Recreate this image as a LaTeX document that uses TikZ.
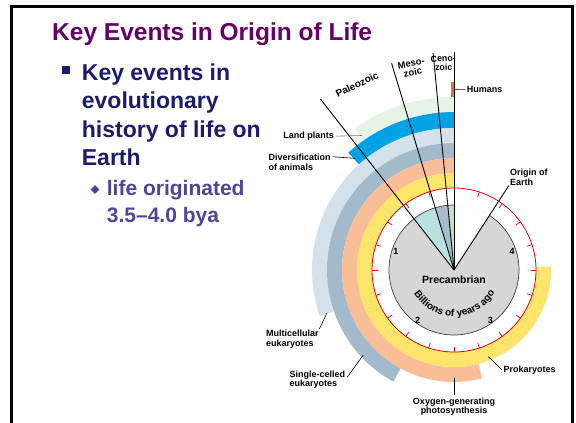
\documentclass[tikz,border=0pt]{standalone}
\usepackage{fontspec}
\setmainfont{Liberation Sans}
\usetikzlibrary{decorations.text,shapes.geometric,calc}

\definecolor{titlepurple}{RGB}{102,0,102}
\definecolor{navy}{RGB}{28,28,110}
\definecolor{subblue}{RGB}{72,72,152}
\definecolor{landgreen}{RGB}{230,243,231}
\definecolor{brightblue}{RGB}{0,162,229}
\definecolor{paleblue}{RGB}{211,225,235}
\definecolor{greyblue}{RGB}{163,186,203}
\definecolor{peach}{RGB}{249,190,152}
\definecolor{yell}{RGB}{253,228,106}
\definecolor{redc}{RGB}{227,0,27}
\definecolor{discgrey}{RGB}{214,214,214}
\definecolor{paleoc}{RGB}{185,225,223}
\definecolor{mesoc}{RGB}{167,189,205}
\definecolor{cenoc}{RGB}{189,227,193}
\definecolor{humanc}{RGB}{228,112,74}

\newcommand{\myring}[5]{\fill[#1] (#2:#4) arc[start angle=#2,end angle=#3,radius=#4] -- (#3:#5) arc[start angle=#3,end angle=#2,radius=#5] -- cycle;}

\begin{document}
\begin{tikzpicture}[x=1pt,y=1pt,
  lab/.style={font=\bfseries\fontsize{9}{10}\selectfont, inner sep=0pt, text=black},
  eralab/.style={font=\bfseries\fontsize{9.5}{9}\selectfont, inner sep=0pt, align=center, text=black},
  bodytext/.style={font=\bfseries\fontsize{23}{28}\selectfont, inner sep=0pt, text=navy, anchor=base west},
  subtext/.style={font=\bfseries\fontsize{21}{26}\selectfont, inner sep=0pt, text=subblue, anchor=base west},
  eraline/.style={line width=0.9pt, black},
  leader/.style={line width=0.6pt, black},
  numlab/.style={font=\bfseries\fontsize{9}{10}\selectfont, inner sep=0pt}]
\useasboundingbox (0,0) rectangle (576,-423);
\fill[white] (0,0) rectangle (576,-423);
\draw[line width=3pt] (11.5,-440) -- (11.5,-6) -- (572.5,-6) -- (572.5,-440);

% title and bullets
\node[anchor=base west, inner sep=0pt, font=\bfseries\fontsize{24.5}{29}\selectfont, text=titlepurple] (title) at (52,-40) {Key Events in Origin of Life};
\node[fill=navy, minimum size=8.3pt, inner sep=0pt] (sq) at (65.8,-70) {};
\node[bodytext] (b1) at (81.7,-80) {Key events in};
\node[bodytext] (b2) at (81.7,-108.5) {evolutionary};
\node[bodytext] (b3) at (81.7,-137) {history of life on};
\node[bodytext] (b4) at (81.7,-165.5) {Earth};
\node[diamond, aspect=1, fill=subblue, minimum size=9pt, inner sep=0pt] (dm) at (95,-189.5) {};
\node[subtext] (s1) at (106.7,-195) {life originated};
\node[subtext] (s2) at (106.7,-222) {3.5--4.0 bya};

% clock diagram
\begin{scope}[shift={(454,-270)}]
  \myring{landgreen}{90}{125}{158}{173}
  \myring{brightblue}{90}{132}{142}{158}
  \myring{paleblue}{90}{199}{127}{142}
  \myring{greyblue}{90}{241.5}{112}{127}
  \myring{peach}{90}{284.5}{97}{112}
  \myring{yell}{90}{362}{82}{97}
  \fill[discgrey] (0,0) circle[radius=65];
  \fill[white] (0,0) -- (57:65) arc[start angle=57,end angle=90,radius=65] -- cycle;
  \fill[cenoc] (0,0) -- (90:65) arc[start angle=90,end angle=95.5,radius=65] -- cycle;
  \fill[mesoc] (0,0) -- (95.5:65) arc[start angle=95.5,end angle=106.8,radius=65] -- cycle;
  \fill[paleoc] (0,0) -- (106.8:65) arc[start angle=106.8,end angle=128,radius=65] -- cycle;
  \draw[line width=0.7pt, black!75] (90:65) arc[start angle=90,end angle=417,radius=65];
  \draw[redc, line width=0.8pt] (0,0) circle[radius=82];
  \foreach \k in {0,...,19} \draw[redc, line width=0.7pt] ({90+18*\k}:82) -- ({90+18*\k}:76.5);
  \coordinate (ctr) at (0,0);
  \coordinate (paleoend) at (128:217);
  \coordinate (mesoend) at (106.8:216);
  \coordinate (cenoend) at (95.5:218);
  \coordinate (nowend) at (90:218);
  \coordinate (oriend) at (57:100.5);
  \node[numlab] (n1) at (162:61) {1};
  \node[numlab] (n2) at (234:62) {2};
  \node[numlab] (n3) at (306:62) {3};
  \node[numlab] (n4) at (18:61) {4};
  \path[decorate, decoration={text along path, text align=center,
     text={|\bfseries\fontsize{10}{11}\selectfont|Billions of years ago}}]
     (210:46.5) arc[start angle=210,end angle=332,radius=46.5];
\end{scope}
\draw[eraline] (ctr) -- (paleoend);
\draw[eraline] (ctr) -- (mesoend);
\draw[eraline] (ctr) -- (cenoend);
\draw[eraline] (ctr) -- (nowend);
\draw[eraline] (ctr) -- (oriend);

\node[fill=humanc, minimum width=2.8pt, minimum height=15pt, inner sep=0pt] (humbar) at (452.1,-89.2) {};

% era labels
\node[eralab, font=\bfseries\fontsize{10}{10}\selectfont, rotate=26] (paleo) at (357,-84.5) {Paleozoic};
\node[eralab, rotate=11] (meso) at (412,-68) {Meso-\\zoic};
\node[eralab, font=\bfseries\fontsize{8.8}{9}\selectfont, rotate=3] (ceno) at (443.5,-63) {Ceno-\\zoic};

% labels
\node[lab, anchor=base, font=\bfseries\fontsize{10.5}{11}\selectfont] (pre) at (454,-283.5) {Precambrian};
\node[lab, anchor=base west] (hum) at (466.7,-92.5) {Humans};
\node[lab, anchor=base east] (lp) at (334,-138.5) {Land plants};
\node[lab, anchor=base west] (div1) at (268.3,-160) {Diversification};
\node[lab, anchor=base west] (div2) at (268.3,-170) {of animals};
\node[lab, anchor=base west] (ori1) at (510,-175.5) {Origin of};
\node[lab, anchor=base west] (ori2) at (510,-185.5) {Earth};
\node[lab, anchor=base west] (mc1) at (266,-336) {Multicellular};
\node[lab, anchor=base west] (mc2) at (266,-346) {eukaryotes};
\node[lab, anchor=base west] (sc1) at (289.3,-377.3) {Single-celled};
\node[lab, anchor=base west] (sc2) at (289.3,-386.8) {eukaryotes};
\node[lab, anchor=base] (ox1) at (454,-404) {Oxygen-generating};
\node[lab, anchor=base] (ox2) at (454,-413.5) {photosynthesis};
\node[lab, anchor=base west] (pro) at (503.3,-372) {Prokaryotes};

% leaders
\coordinate (lpend) at (362,-135.5);
\coordinate (divend) at (355,-158.3);
\coordinate (mcend) at (327,-313);
\coordinate (scend) at (363.3,-355);
\coordinate (oxend) at (454,-378.3);
\coordinate (proend) at (488.3,-356.7);
\draw[leader, black!55] ([xshift=1.5pt]lp.east) -- (lpend);
\draw[leader] ([xshift=2pt]div1.east) -- (divend);
\draw[leader] (humbar.east) -- ([xshift=-1.5pt]hum.west);
\draw[leader] ([shift={(0.5pt,0.5pt)}]mc1.north east) -- (mcend);
\draw[leader] ([xshift=2pt]sc1.base east) -- (scend);
\draw[leader] ([yshift=2pt]ox1.north) -- (oxend);
\draw[leader] ([xshift=-1.5pt]pro.west) -- (proend);
\end{tikzpicture}
\end{document}
